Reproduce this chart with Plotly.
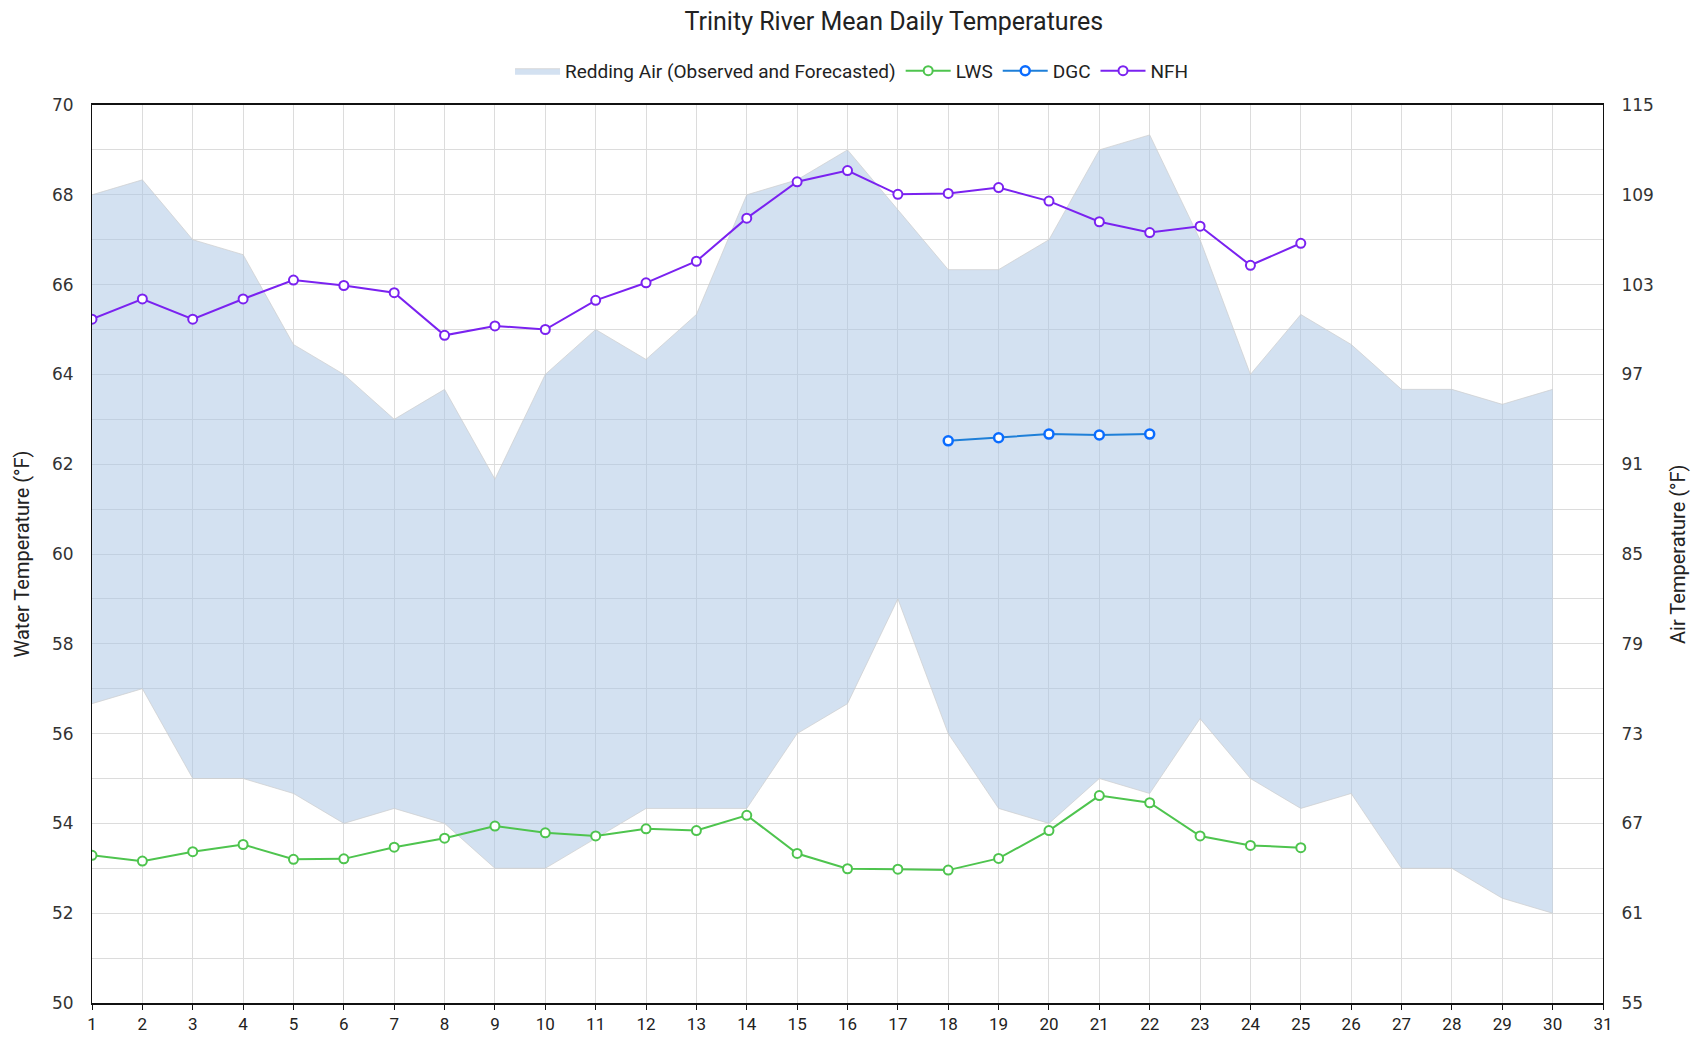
import plotly.graph_objects as go

days = list(range(1, 31))
air_high = [109, 110, 106, 105, 99, 97, 94, 96, 90, 97, 100, 98, 101, 109, 110, 112,
            108, 104, 104, 106, 112, 113, 106, 97, 101, 99, 96, 96, 95, 96]
air_low = [75, 76, 70, 70, 69, 67, 68, 67, 64, 64, 66, 68, 68, 68, 73, 75,
           82, 73, 68, 67, 70, 69, 74, 70, 68, 69, 64, 64, 62, 61]

lws_days = list(range(1, 26))
lws = [53.29, 53.16, 53.37, 53.53, 53.20, 53.21, 53.47, 53.67, 53.94, 53.79, 53.72, 53.88,
       53.84, 54.18, 53.33, 52.99, 52.98, 52.96, 53.22, 53.84, 54.62, 54.46, 53.72, 53.51, 53.46]

dgc_days = [18, 19, 20, 21, 22]
dgc = [62.52, 62.59, 62.67, 62.65, 62.67]

nfh_days = list(range(1, 26))
nfh = [65.23, 65.68, 65.23, 65.68, 66.10, 65.98, 65.82, 64.87, 65.08, 65.00, 65.65, 66.04,
       66.52, 67.48, 68.29, 68.54, 68.01, 68.03, 68.16, 67.86, 67.40, 67.16, 67.30, 66.43, 66.92]

x_ticks = list(range(1, 32))
water_ticks = list(range(50, 71, 2))
air_ticks = list(range(55, 116, 6))
air_grid = list(range(55, 116, 3))

FONT = "Roboto, sans-serif"
TICKFONT = "DejaVu Sans, Verdana, sans-serif"

fig = go.Figure()

# Air band on the primary (right-hand) axis so water lines draw above it
fig.add_trace(go.Scatter(x=days, y=air_low, yaxis="y", mode="lines",
                         line=dict(color="rgba(205,205,205,0.7)", width=1),
                         showlegend=False, hoverinfo="skip"))
fig.add_trace(go.Scatter(x=days, y=air_high, yaxis="y", mode="lines",
                         fill="tonexty", fillcolor="rgba(167,195,228,0.5)",
                         line=dict(color="rgba(205,205,205,0.7)", width=1),
                         name="Redding Air (Observed and Forecasted)"))

def mk(color, lw=2):
    return dict(symbol="circle", size=9, color="white", line=dict(color=color, width=lw))

fig.add_trace(go.Scatter(x=lws_days, y=lws, yaxis="y2", mode="lines+markers", name="LWS",
                         line=dict(color="#4EC44E", width=2), marker=mk("#4EC44E")))
fig.add_trace(go.Scatter(x=dgc_days, y=dgc, yaxis="y2", mode="lines+markers", name="DGC",
                         line=dict(color="#1E7FD8", width=2), marker=mk("#0A6CFF", 2.5)))
fig.add_trace(go.Scatter(x=nfh_days, y=nfh, yaxis="y2", mode="lines+markers", name="NFH",
                         line=dict(color="#7A22F0", width=2), marker=mk("#7A22F0")))

W, H = 1684, 1029
fig.update_layout(
    width=W, height=H,
    paper_bgcolor="white", plot_bgcolor="white",
    margin=dict(l=84, r=89, t=97, b=34, autoexpand=False),
    title=dict(text="Trinity River Mean Daily Temperatures", x=0.526, xanchor="center",
               y=0.987, yanchor="middle",
               font=dict(family=FONT, size=25, color="#222222")),
    legend=dict(orientation="h", x=0.503, xanchor="center", y=1.038, yanchor="middle",
                traceorder="normal",
                font=dict(family=FONT, size=19, color="#222222"),
                itemwidth=45, bgcolor="rgba(0,0,0,0)"),
    xaxis=dict(range=[1, 31], tickmode="array", tickvals=x_ticks, ticktext=[str(v) for v in x_ticks],
               showgrid=True, gridcolor="#DCDCDC", gridwidth=1,
               showline=True, linecolor="#111111", linewidth=2, mirror=True,
               ticks="outside", ticklen=5, tickcolor="#111111",
               tickfont=dict(family=FONT, size=17, color="#222222"), zeroline=False,
               automargin=False),
    yaxis=dict(range=[55, 115], side="right", tickmode="array",
               tickvals=air_grid, ticktext=[str(v) if v in air_ticks else "" for v in air_grid],
               showgrid=True, gridcolor="#DCDCDC", gridwidth=1,
               showline=True, linecolor="#111111", linewidth=1,
               ticks="", ticklabelstandoff=14,
               tickfont=dict(family=TICKFONT, size=17, color="#333333"),
               zeroline=False, automargin=False),
    yaxis2=dict(range=[50, 70], overlaying="y", side="left", tickmode="array",
                tickvals=water_ticks, ticktext=[str(v) for v in water_ticks],
                showgrid=False, showline=True, linecolor="#111111", linewidth=1,
                ticks="", ticklabelstandoff=14,
                tickfont=dict(family=TICKFONT, size=17, color="#333333"),
                zeroline=False, automargin=False),
    annotations=[
        dict(text="Water Temperature (°F)", xref="paper", yref="paper",
             x=-0.046, y=0.5, xanchor="center", yanchor="middle", textangle=-90,
             showarrow=False, font=dict(family=FONT, size=20, color="#222222")),
        dict(text="Air Temperature (°F)", xref="paper", yref="paper",
             x=1.0496, y=0.5, xanchor="center", yanchor="middle", textangle=-90,
             showarrow=False, font=dict(family=FONT, size=20, color="#222222")),
    ],
)

fig.write_html("out.html")
